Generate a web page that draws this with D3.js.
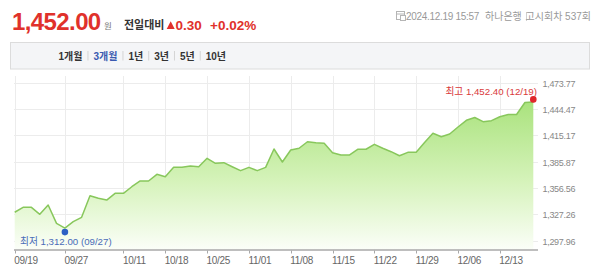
<!DOCTYPE html>
<html>
<head>
<meta charset="utf-8">
<script src="https://cdn.jsdelivr.net/npm/d3@7"></script>
<style>
  html, body { margin: 0; padding: 0; background: #fff; }
  svg { display: block; font-family: Arial, "Liberation Sans", "Noto Sans CJK KR", sans-serif; }
</style>
</head>
<body>
<svg id="chart" width="600" height="276"></svg>
<script>
// --- Data ---
const dates = [
  "09/19","09/20","09/23","09/24","09/25","09/26","09/27","09/30","10/02","10/04",
  "10/07","10/08","10/10","10/11","10/14","10/15","10/16","10/17","10/18","10/21",
  "10/22","10/23","10/24","10/25","10/28","10/29","10/30","10/31","11/01","11/04",
  "11/05","11/06","11/07","11/08","11/11","11/12","11/13","11/14","11/15","11/18",
  "11/19","11/20","11/21","11/22","11/25","11/26","11/27","11/28","11/29","12/02",
  "12/03","12/04","12/05","12/06","12/09","12/10","12/11","12/12","12/13","12/16",
  "12/17","12/18","12/19"
];
const rates = [
  1329.6, 1335.1, 1335.1, 1327.3, 1337.7, 1317.3, 1312.0, 1319.1, 1324.0, 1348.0,
  1345.1, 1343.2, 1350.7, 1350.7, 1358.0, 1364.4, 1364.4, 1371.8, 1369.2, 1379.6,
  1379.6, 1381.1, 1380.3, 1389.6, 1384.1, 1384.8, 1380.3, 1375.9, 1379.6, 1375.9,
  1379.6, 1400.0, 1385.5, 1398.9, 1400.8, 1408.1, 1407.0, 1406.3, 1395.9, 1393.3,
  1393.3, 1399.7, 1399.7, 1405.2, 1400.8, 1397.0, 1392.5, 1396.3, 1396.3, 1407.2,
  1417.5, 1413.7, 1416.7, 1424.5, 1431.9, 1435.0, 1430.4, 1431.5, 1435.9, 1438.4,
  1438.4, 1451.7, 1452.4
];
const xTicks = ["09/19","09/27","10/11","10/18","10/25","11/01","11/08","11/15","11/22","11/29","12/06","12/13"];
const yTicks = [1297.96, 1327.26, 1356.56, 1385.87, 1415.17, 1444.47, 1473.77];
const periods = ["1개월", "3개월", "1년", "3년", "5년", "10년"];
const activePeriod = "3개월";

// --- Layout ---
const plot = { left: 14, right: 538, top: 76, bottom: 249.5 };
const svg = d3.select("#chart");

const x = d3.scalePoint().domain(dates).range([14.7, 533.3]);
const y = d3.scaleLinear().domain([yTicks[0], yTicks[yTicks.length - 1]]).range([240.7, 82.7]);

const fmt = d3.format(",.2f");

// --- Header ---
svg.append("text").attr("x", 12).attr("y", 29.5)
  .attr("fill", "#e0312b").attr("font-size", 24).attr("font-weight", "bold")
  .attr("letter-spacing", "-0.6")
  .text("1,452.00");
svg.append("text").attr("x", 104).attr("y", 29)
  .attr("fill", "#777").attr("font-size", 8.5).text("원");
svg.append("text").attr("x", 124).attr("y", 29)
  .attr("fill", "#333").attr("font-size", 11).attr("font-weight", "bold").text("전일대비");
svg.append("path").attr("d", "M166.7,29L174.7,29L170.7,21.2Z").attr("fill", "#e0312b");
svg.append("text").attr("x", 175.5).attr("y", 29.5)
  .attr("fill", "#e0312b").attr("font-size", 13.5).attr("font-weight", "bold").text("0.30");
svg.append("text").attr("x", 210).attr("y", 29.5)
  .attr("fill", "#e0312b").attr("font-size", 13.5).attr("font-weight", "bold").text("+0.02%");

// date / bank info
const info = svg.append("g").attr("transform", "translate(396.5,11.5)");
info.append("rect").attr("width", 8).attr("height", 8).attr("fill", "none").attr("stroke", "#b5b5b5");
info.append("line").attr("x1", 0).attr("x2", 8).attr("y1", 2.5).attr("y2", 2.5).attr("stroke", "#b5b5b5");
info.append("rect").attr("x", 4).attr("y", 4).attr("width", 5).attr("height", 5).attr("fill", "#fff").attr("stroke", "#b5b5b5");
svg.append("text").attr("x", 406).attr("y", 20)
  .attr("fill", "#999").attr("font-size", 10).attr("letter-spacing", "-0.3")
  .text("2024.12.19 15:57");
svg.append("text").attr("x", 485).attr("y", 20)
  .attr("fill", "#999").attr("font-size", 10).text("하나은행");
svg.append("line").attr("x1", 526.5).attr("x2", 526.5).attr("y1", 12).attr("y2", 21).attr("stroke", "#d0d0d0");
svg.append("text").attr("x", 591).attr("y", 20).attr("text-anchor", "end")
  .attr("fill", "#999").attr("font-size", 10).text("고시회차 537회");

// --- Period tabs ---
svg.append("rect").attr("x", 10.5).attr("y", 42.5).attr("width", 579).attr("height", 26.5)
  .attr("fill", "#f4f5f7").attr("stroke", "#dcdcdc");
let tx = 58.5;
periods.forEach((p, i) => {
  const t = svg.append("text").attr("x", tx).attr("y", 59.5)
    .attr("font-size", 10).attr("font-weight", "bold")
    .attr("fill", p === activePeriod ? "#3a5ab0" : "#333").text(p);
  tx += t.node().getComputedTextLength();
  if (i < periods.length - 1) {
    svg.append("line").attr("x1", tx + 5.5).attr("x2", tx + 5.5).attr("y1", 51).attr("y2", 60.5)
      .attr("stroke", "#d4d4d4");
    tx += 11;
  }
});

// --- Grid ---
const grid = svg.append("g");
grid.selectAll("line.h").data(yTicks).join("line")
  .attr("x1", plot.left).attr("x2", plot.right)
  .attr("y1", d => Math.round(y(d)) + 0.5).attr("y2", d => Math.round(y(d)) + 0.5)
  .attr("stroke", "#ececec");
grid.selectAll("line.v").data(xTicks).join("line")
  .attr("x1", d => Math.round(x(d)) + 0.5).attr("x2", d => Math.round(x(d)) + 0.5)
  .attr("y1", plot.top).attr("y2", plot.bottom)
  .attr("stroke", "#ececec");

// --- Area + line ---
const defs = svg.append("defs");
const grad = defs.append("linearGradient").attr("id", "fillGrad")
  .attr("gradientUnits", "userSpaceOnUse")
  .attr("x1", 0).attr("x2", 0).attr("y1", 100).attr("y2", plot.bottom);
grad.append("stop").attr("offset", "0%").attr("stop-color", "#a9e27c");
grad.append("stop").attr("offset", "55%").attr("stop-color", "#d6f3bb");
grad.append("stop").attr("offset", "100%").attr("stop-color", "#fbfef8");

const series = dates.map((d, i) => ({ date: d, value: rates[i] }));

svg.append("path").datum(series)
  .attr("fill", "url(#fillGrad)")
  .attr("d", d3.area().x(d => x(d.date)).y0(plot.bottom).y1(d => y(d.value)));

svg.append("path").datum(series)
  .attr("fill", "none").attr("stroke", "#88c75c").attr("stroke-width", 1.5)
  .attr("stroke-linejoin", "round")
  .attr("d", d3.line().x(d => x(d.date)).y(d => y(d.value)));

// --- X axis ---
svg.append("line").attr("x1", plot.left).attr("x2", plot.right)
  .attr("y1", plot.bottom + 0.5).attr("y2", plot.bottom + 0.5)
  .attr("stroke", "#a8a8a8").attr("stroke-width", 1.5);
const xt = svg.append("g");
xt.selectAll("line").data(xTicks).join("line")
  .attr("x1", d => Math.round(x(d)) + 0.5).attr("x2", d => Math.round(x(d)) + 0.5)
  .attr("y1", plot.bottom + 1).attr("y2", plot.bottom + 4)
  .attr("stroke", "#a8a8a8");
xt.selectAll("text").data(xTicks).join("text")
  .attr("x", d => x(d) - 0.5).attr("y", 263.5)
  .attr("fill", "#666").attr("font-size", 10).attr("letter-spacing", "-0.3")
  .text(d => d);

// --- Y labels ---
svg.append("g").selectAll("text").data(yTicks).join("text")
  .attr("x", 542.5).attr("y", d => y(d) + 4)
  .attr("fill", "#888").attr("font-size", 9).attr("letter-spacing", "-0.3")
  .text(d => fmt(d));

// --- Min / Max markers ---
const minPt = series.reduce((a, b) => b.value < a.value ? b : a);
const maxPt = series.reduce((a, b) => b.value > a.value ? b : a);

svg.append("circle").attr("cx", x(minPt.date)).attr("cy", y(minPt.value) + 4)
  .attr("r", 3.3).attr("fill", "#2c5fc4");
svg.append("text").attr("x", 20).attr("y", 245)
  .attr("fill", "#4a6cb8").attr("font-size", 9.7)
  .text(`최저 ${fmt(minPt.value)} (${minPt.date})`);

svg.append("circle").attr("cx", x(maxPt.date)).attr("cy", y(maxPt.value) - 2.5)
  .attr("r", 3.3).attr("fill", "#e0262b");
svg.append("text").attr("x", 537).attr("y", 94.5)
  .attr("text-anchor", "end")
  .attr("fill", "#d9393a").attr("font-size", 9.7)
  .text(`최고 ${fmt(maxPt.value)} (${maxPt.date})`);
</script>
</body>
</html>
